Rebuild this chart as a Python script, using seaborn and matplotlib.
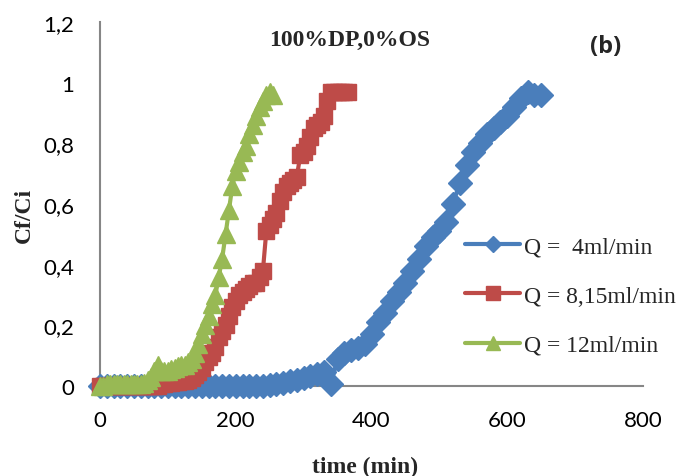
import matplotlib
matplotlib.use("Agg")
import matplotlib.pyplot as plt
import seaborn as sns
import pandas as pd
from matplotlib.ticker import FuncFormatter

# ---------------- data ----------------
t_blue = [0, 10, 20, 30, 40, 50, 60, 70, 80, 90, 100, 110, 120, 130, 140, 150, 160, 170, 180, 190,
          200, 210, 220, 230, 240, 250, 260, 270, 280, 290, 300, 310, 320, 330, 340, 350, 360, 370,
          380, 390, 400, 410, 420, 430, 440, 450, 460, 470, 480, 490, 500, 510, 520, 530, 540, 550,
          560, 570, 580, 590, 600, 610, 620, 630, 640, 650]
c_blue = [0, 0, 0, 0, 0, 0, 0, 0, 0, 0, 0, 0, 0, 0, 0, 0, 0, 0, 0, 0,
          0, 0, 0, 0, 0, 0.003, 0.006, 0.01, 0.015, 0.02, 0.027, 0.032, 0.038, 0.045, 0.005, 0.09, 0.11, 0.12,
          0.125, 0.14, 0.17, 0.21, 0.24, 0.28, 0.31, 0.34, 0.38, 0.42, 0.46, 0.49, 0.51, 0.54, 0.60, 0.67, 0.73, 0.77,
          0.80, 0.83, 0.85, 0.87, 0.89, 0.92, 0.95, 0.97, 0.96, 0.96]

t_red = [0, 5, 10, 15, 20, 25, 30, 35, 40, 45, 50, 55, 60, 65, 70, 75, 80, 85,
         90, 95, 100, 105, 110, 115, 120, 125, 130, 135, 140, 145, 150, 155, 160, 165, 170, 175,
         180, 185, 190, 195, 200, 205, 210, 215, 220, 225, 230, 235, 240, 245, 250, 255, 260, 265,
         270, 275, 280, 285, 290, 295, 300, 305, 310, 315, 320, 325, 330, 335, 340, 345, 350, 355,
         360, 365]
c_red = [0, 0, 0, 0, 0, 0, 0, 0, 0, 0, 0, 0, 0, 0, 0, 0, 0, 0,
         0.005, 0.008, 0.01, 0.01, 0.012, 0.013, 0.015, 0.018, 0.02, 0.025, 0.035, 0.045, 0.06, 0.08, 0.095, 0.11, 0.13, 0.16,
         0.18, 0.2, 0.23, 0.26, 0.28, 0.3, 0.31, 0.32, 0.33, 0.34, 0.34, 0.36, 0.38, 0.51, 0.53, 0.55, 0.57, 0.61,
         0.64, 0.66, 0.67, 0.68, 0.69, 0.76, 0.77, 0.79, 0.82, 0.85, 0.86, 0.87, 0.89, 0.94, 0.97, 0.97, 0.97, 0.97,
         0.97, 0.97]

t_green = [0, 5, 10, 15, 20, 25, 30, 35, 40, 45, 50, 55, 60, 65, 70, 75, 80, 85, 90, 95,
           100, 105, 110, 115, 120, 125, 130, 135, 140, 145, 150, 155, 160, 165, 170, 175, 180, 185,
           190, 195, 200, 205, 210, 215, 220, 225, 230, 235, 240, 245, 250, 255]
c_green = [0, 0, 0.005, 0.005, 0.005, 0.005, 0.005, 0.005, 0.005, 0.005, 0.005, 0.008, 0.008, 0.01, 0.02, 0.03, 0.05, 0.07, 0.05, 0.05,
           0.05, 0.055, 0.06, 0.065, 0.07, 0.07, 0.08, 0.09, 0.11, 0.14, 0.17, 0.2, 0.23, 0.27, 0.3, 0.36, 0.42, 0.5,
           0.58, 0.66, 0.71, 0.74, 0.77, 0.79, 0.83, 0.86, 0.89, 0.92, 0.94, 0.96, 0.97, 0.96]

labels = ["Q =  4ml/min", "Q = 8,15ml/min", "Q = 12ml/min"]
colors = ["#4A7EBB", "#BE4B48", "#98B954"]
markers = ["D", "s", "^"]
msizes = [12.5, 12, 13]
leg_msizes = [8, 10, 10]

x_ticks = [0, 200, 400, 600, 800]
y_ticks = [0, 0.2, 0.4, 0.6, 0.8, 1.0, 1.2]

# ---------------- plot ----------------
sns.set_style("white")
plt.rcParams["font.family"] = ["Lato", "DejaVu Sans"]

W, H = 692, 477
fig = plt.figure(figsize=(W / 100, H / 100), dpi=100)
ax = fig.add_axes([100 / W, 1 - 387 / H, (643 - 100) / W, (387 - 23) / H])

series = [(t_blue, c_blue), (t_red, c_red), (t_green, c_green)]
for i, (tt, cc) in enumerate(series):
    df = pd.DataFrame({"time": tt, "c": cc})
    sns.lineplot(data=df, x="time", y="c", ax=ax, color=colors[i], marker=markers[i],
                 markersize=msizes[i], markeredgecolor=colors[i], markeredgewidth=1,
                 linewidth=3, label=labels[i], estimator=None, sort=False, clip_on=False,
                 zorder=3 + i)

ax.set_xlim(0, 800)
ax.set_ylim(0, 1.2)
ax.set_xticks(x_ticks)
ax.set_yticks(y_ticks)
ax.yaxis.set_major_formatter(FuncFormatter(lambda v, p: f"{v:g}".replace(".", ",")))
ax.set_xlabel("")
ax.set_ylabel("")

for s in ["top", "right"]:
    ax.spines[s].set_visible(False)
for s in ["left", "bottom"]:
    ax.spines[s].set_color("#868686")
    ax.spines[s].set_linewidth(1.5)

ax.tick_params(axis="both", direction="out", length=6.5, width=1.5, color="#868686",
               labelcolor="black", labelsize=16)
ax.tick_params(axis="y", pad=12)
ax.tick_params(axis="x", pad=11)
ax.grid(False)

serif = ["Liberation Serif", "DejaVu Serif"]
fig.text(350 / W, 1 - 40 / H, "100%DP,0%OS", ha="center", va="center",
         fontsize=17, fontweight="bold", family=serif)
fig.text(606 / W, 1 - 47 / H, "(b)", ha="center", va="center",
         fontsize=17, fontweight="bold", family=["Open Sans", "DejaVu Sans"])
fig.text(365 / W, 1 - 467 / H, "time (min)", ha="center", va="center",
         fontsize=17, fontweight="bold", family=serif)
fig.text(24 / W, 1 - 215 / H, "Cf/Ci", ha="center", va="center", rotation=90,
         fontsize=17, fontweight="bold", family=serif)

leg = ax.legend(loc="upper left", bbox_to_anchor=(465 / W, 1 - 237 / H),
                bbox_transform=fig.transFigure, frameon=False, borderpad=0,
                borderaxespad=0, handlelength=2.35, handletextpad=0.15,
                labelspacing=1.17, numpoints=1, prop={"family": serif, "size": 17})
for h, ms in zip(leg.legend_handles, leg_msizes):
    h.set_markersize(ms)

fig.savefig("out.png", dpi=100)
